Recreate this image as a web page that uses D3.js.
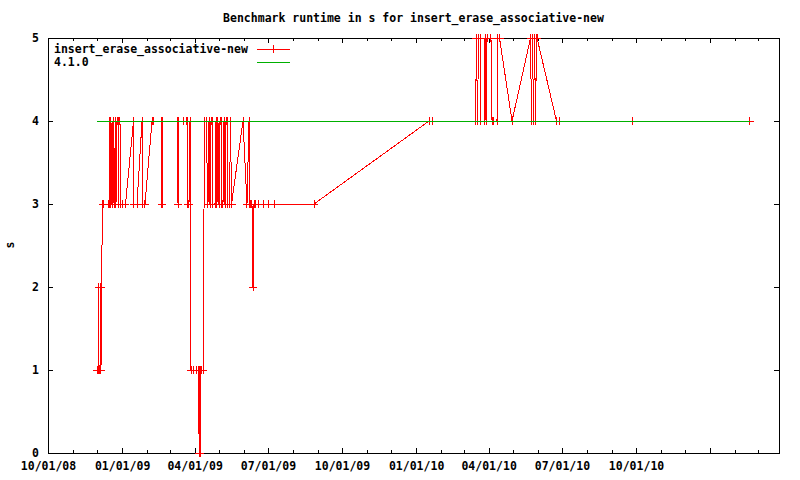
<!DOCTYPE html>
<html><head><meta charset="utf-8">
<script src="https://cdn.jsdelivr.net/npm/d3@7"></script>
<style>
body{margin:0;background:#fff}
svg{display:block}
text{font-family:"DejaVu Sans Mono","Liberation Mono",monospace;font-size:11.5px;font-weight:bold;fill:#000}
</style>
</head><body>
<svg id="c" width="800" height="480"></svg>
<script>
const chartTitle = "Benchmark runtime in s for insert_erase_associative-new";
const seriesName = "insert_erase_associative-new";
const refName = "4.1.0";
const yLabel = "s";

const runDates = [
"2008-11-30 20:00","2008-12-02 02:00","2008-12-02 17:00","2008-12-03 08:00","2008-12-03 23:00","2008-12-04 13:00","2008-12-05 04:00","2008-12-05 19:00","2008-12-06 10:00","2008-12-07 16:00","2008-12-08 22:00",
"2008-12-14 12:00","2008-12-15 18:00","2008-12-16 23:00","2008-12-17 14:00","2008-12-18 05:00","2008-12-19 11:00","2008-12-20 17:00","2008-12-21 23:00","2008-12-23 19:00","2008-12-24 10:00","2008-12-25 16:00","2008-12-26 22:00","2008-12-27 13:00","2008-12-28 04:00","2008-12-29 09:00","2008-12-30 00:00","2008-12-31 21:00",
"2009-01-05 05:00","2009-01-15 04:00","2009-01-15 18:00","2009-01-19 12:00","2009-01-25 17:00","2009-01-26 08:00","2009-01-29 10:00","2009-02-07 03:00","2009-02-09 14:00","2009-02-18 07:00","2009-02-18 22:00","2009-02-19 13:00","2009-02-20 04:00",
"2009-03-10 04:00","2009-03-10 18:00","2009-03-11 10:00","2009-03-12 00:00","2009-03-12 15:00","2009-03-18 20:00","2009-03-21 08:00","2009-03-22 14:00","2009-03-23 05:00","2009-03-23 19:00","2009-03-25 01:00","2009-03-26 07:00",
"2009-03-27 13:00","2009-03-31 06:00","2009-04-02 18:00","2009-04-05 06:00","2009-04-06 20:00","2009-04-07 11:00","2009-04-07 23:00","2009-04-08 11:00","2009-04-09 08:00","2009-04-12 01:00",
"2009-04-13 01:00","2009-04-15 04:00","2009-04-17 15:00","2009-04-18 21:00","2009-04-20 03:00","2009-04-21 09:00","2009-04-22 15:00","2009-04-23 20:00","2009-04-26 08:00","2009-04-27 14:00","2009-04-28 19:00","2009-04-30 01:00",
"2009-05-01 07:00","2009-05-02 13:00","2009-05-03 19:00","2009-05-05 00:00","2009-05-06 06:00","2009-05-07 12:00","2009-05-08 18:00","2009-05-10 00:00","2009-05-11 06:00","2009-05-12 11:00","2009-05-14 08:00","2009-05-15 14:00","2009-05-16 20:00","2009-05-31 02:00",
"2009-06-05 01:00","2009-06-07 13:00","2009-06-08 10:00","2009-06-10 00:00","2009-06-11 06:00","2009-06-12 12:00","2009-06-13 18:00","2009-06-15 15:00","2009-06-18 17:00","2009-06-24 22:00","2009-07-01 03:00","2009-07-08 14:00","2009-08-27 06:00",
"2010-01-17 00:00","2010-01-21 09:00","2010-03-15 18:00","2010-03-16 23:00","2010-03-18 05:00","2010-03-19 11:00","2010-03-21 08:00","2010-03-21 23:00","2010-03-26 07:00","2010-03-27 13:00","2010-03-28 19:00","2010-03-30 00:00",
"2010-04-03 23:00","2010-04-05 06:00","2010-04-06 11:00","2010-04-11 10:00","2010-04-12 01:00","2010-04-14 13:00","2010-04-30 01:00",
"2010-05-23 01:00","2010-05-24 06:00","2010-05-25 12:00","2010-05-26 18:00","2010-05-28 00:00","2010-05-29 06:00","2010-05-30 12:00","2010-05-31 02:00",
"2010-06-24 07:00","2010-06-27 10:00","2010-09-26 16:00","2011-02-18 22:00"
];
const runtimes = [
1,1,2,1,1,1,2,1,2,3,3,
3,3,4,3,4,3,4,3,4,3,4,4,3,4,4,3,3,
3,4,3,3,4,3,3,4,4,4,3,3,4,
4,4,3,3,4,4,4,4,4,3,3,4,
1,1,1,1,0,1,0,1,1,1,
4,4,3,4,3,4,4,3,3,4,3,4,
3,4,4,3,3,4,3,4,4,3,3,4,3,4,
3,4,3,3,3,2,3,3,3,3,3,3,3,
4,4,4,5,4,5,5,4,4,5,4,5,
5,4,4,4,5,5,4,
5,4,5,4,5,4,5,5,
4,4,4,4
];
const refDates = ["2008-11-30 20:00","2011-02-18 22:00"];
const refValues = [4,4];

const xDomain = ["2008-10-01 00:00","2011-03-27 12:00"];
const xTickDates = ["2008-10-01 00:00","2009-01-01 00:00","2009-04-01 00:00","2009-07-01 00:00","2009-10-01 00:00","2010-01-01 00:00","2010-04-01 00:00","2010-07-01 00:00","2010-10-01 00:00","2011-01-01 00:00"];
const xTickLabels = ["10/01/08","01/01/09","04/01/09","07/01/09","10/01/09","01/01/10","04/01/10","07/01/10","10/01/10",""];
const yTicks = [0,1,2,3,4,5];

const parse = d3.timeParse("%Y-%m-%d %H:%M");
const L = 48, R = 779, T = 38, B = 453;
const svg = d3.select("#c");
const x = d3.scaleTime().domain(xDomain.map(parse)).range([L, R]);
const y = d3.scaleLinear().domain([0, 5]).range([B, T]);

const run = runDates.map((d, i) => ({date: parse(d), v: runtimes[i]}));
const ref = refDates.map((d, i) => ({date: parse(d), v: refValues[i]}));

function styleAxis(g, labels) {
  g.select(".domain").remove();
  g.selectAll("line").attr("stroke", "#000").attr("shape-rendering", "crispEdges");
  if (!labels) g.selectAll("text").remove();
}

const tickDates = xTickDates.map(parse);
const monthTicks = d3.timeMonth.range(x.domain()[0], x.domain()[1]);

svg.append("g").attr("transform", `translate(0,${B})`)
  .call(d3.axisBottom(x).tickValues(monthTicks).tickSize(-3).tickFormat(""))
  .call(g => styleAxis(g, false));
svg.append("g").attr("transform", `translate(0,${T})`)
  .call(d3.axisTop(x).tickValues(monthTicks).tickSize(-3).tickFormat(""))
  .call(g => styleAxis(g, false));
svg.append("g").attr("transform", `translate(0,${B})`)
  .call(d3.axisBottom(x).tickValues(tickDates).tickSize(-5).tickPadding(9)
    .tickFormat((d, i) => xTickLabels[i]))
  .call(g => styleAxis(g, true));
svg.append("g").attr("transform", `translate(0,${T})`)
  .call(d3.axisTop(x).tickValues(tickDates).tickSize(-5).tickFormat(""))
  .call(g => styleAxis(g, false));
svg.append("g").attr("transform", `translate(${L},0)`)
  .call(d3.axisLeft(y).tickValues(yTicks).tickSize(-5).tickPadding(9).tickFormat(d3.format("d")))
  .call(g => styleAxis(g, true))
  .selectAll("text").attr("dy", "0.32em");
svg.append("g").attr("transform", `translate(${R},0)`)
  .call(d3.axisRight(y).tickValues(yTicks).tickSize(-5).tickFormat(""))
  .call(g => styleAxis(g, false));

svg.append("rect").attr("x", L).attr("y", T).attr("width", R - L).attr("height", B - T)
  .attr("fill", "none").attr("stroke", "#000").attr("shape-rendering", "crispEdges");

svg.append("clipPath").attr("id", "clip").append("rect")
  .attr("x", L).attr("y", T - 1).attr("width", R - L).attr("height", B - T + 2);

const line = d3.line().x(d => x(d.date)).y(d => y(d.v));
const red = "#ff0000", green = "#00b000";

svg.append("path").datum(run).attr("d", line).attr("fill", "none")
  .attr("stroke", red).attr("stroke-width", 1).attr("clip-path", "url(#clip)")
  .attr("shape-rendering", "crispEdges");
svg.append("g").selectAll("path").data(run).join("path")
  .attr("transform", d => `translate(${x(d.date)},${y(d.v)})`)
  .attr("d", "M-4,0H4M0,-4V4").attr("stroke", red).attr("fill", "none")
  .attr("shape-rendering", "crispEdges");

svg.append("path").datum(ref).attr("d", line).attr("fill", "none")
  .attr("stroke", green).attr("stroke-width", 1).attr("shape-rendering", "crispEdges");

svg.append("text").attr("x", (L + R) / 2).attr("y", 22).attr("text-anchor", "middle").text(chartTitle);
svg.append("text").attr("transform", "translate(14,245) rotate(-90)").attr("text-anchor", "middle").text(yLabel);

const lg = svg.append("g");
lg.append("text").attr("x", 54).attr("y", 53).text(seriesName);
lg.append("text").attr("x", 54).attr("y", 66).text(refName);
lg.append("line").attr("x1", 257).attr("x2", 290).attr("y1", 49).attr("y2", 49)
  .attr("stroke", red).attr("shape-rendering", "crispEdges");
lg.append("path").attr("transform", "translate(273,49)").attr("d", "M-4,0H4M0,-4V4")
  .attr("stroke", red).attr("shape-rendering", "crispEdges");
lg.append("line").attr("x1", 257).attr("x2", 290).attr("y1", 62).attr("y2", 62)
  .attr("stroke", green).attr("shape-rendering", "crispEdges");
</script>
</body></html>
